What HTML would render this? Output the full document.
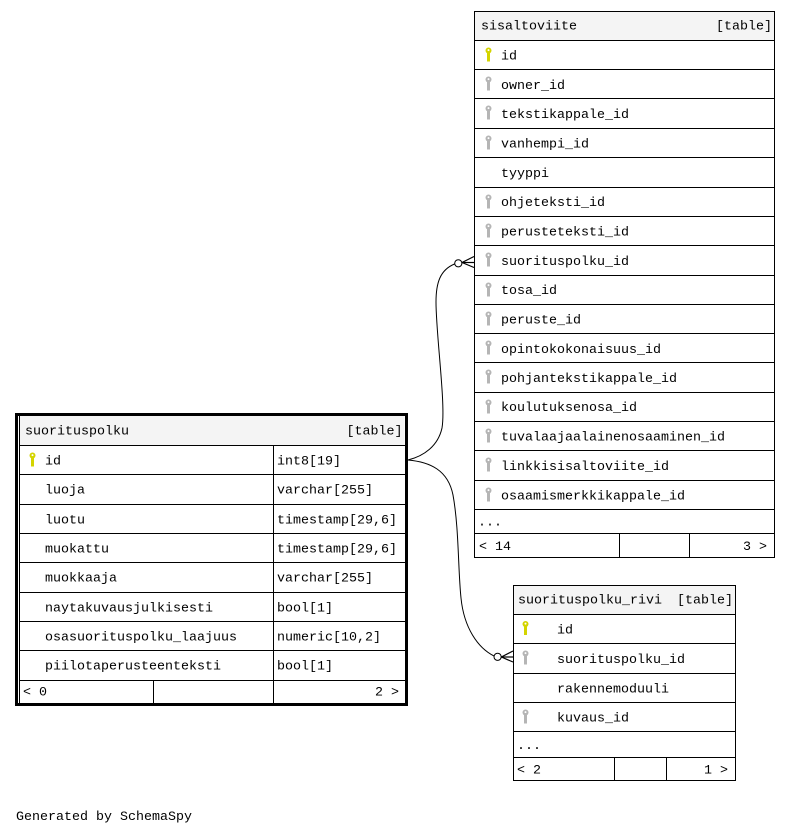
<!DOCTYPE html>
<html>
<head>
<meta charset="utf-8">
<style>
  html, body { margin: 0; padding: 0; background: #ffffff; }
  body { width: 789px; height: 835px; overflow: hidden; }
  svg { display: block; }
  text { font-family: "Liberation Mono", "DejaVu Sans Mono", monospace; font-size: 13.33px; fill: #000; }
</style>
</head>
<body>
<svg width="789" height="835" viewBox="0 0 789 835" xmlns="http://www.w3.org/2000/svg">
  <defs>
    <g id="kY">
      <circle cx="3.5" cy="3" r="3" fill="#d4d400"/>
      <rect x="2" y="5" width="3" height="9" fill="#d4d400"/>
      <circle cx="3.5" cy="2.6" r="1" fill="#ffffff"/>
    </g>
    <g id="kG">
      <circle cx="3.5" cy="3" r="3" fill="#b5b5b5"/>
      <rect x="2" y="5" width="3" height="9" fill="#b5b5b5"/>
      <circle cx="3.5" cy="2.6" r="1" fill="#ffffff"/>
    </g>
  </defs>

  <!-- ================= sisaltoviite ================= -->
  <g shape-rendering="crispEdges">
    <rect x="474.5" y="11.5" width="300" height="29" fill="#f4f4f4" stroke="none"/>
    <rect x="474.5" y="11.5" width="300" height="546" fill="none" stroke="#000" stroke-width="1"/>
    <g stroke="#000" stroke-width="1">
      <line x1="474.5" y1="40.5" x2="774.5" y2="40.5"/>
      <line x1="474.5" y1="69.5" x2="774.5" y2="69.5"/>
      <line x1="474.5" y1="98.5" x2="774.5" y2="98.5"/>
      <line x1="474.5" y1="128.5" x2="774.5" y2="128.5"/>
      <line x1="474.5" y1="157.5" x2="774.5" y2="157.5"/>
      <line x1="474.5" y1="187.5" x2="774.5" y2="187.5"/>
      <line x1="474.5" y1="216.5" x2="774.5" y2="216.5"/>
      <line x1="474.5" y1="245.5" x2="774.5" y2="245.5"/>
      <line x1="474.5" y1="275.5" x2="774.5" y2="275.5"/>
      <line x1="474.5" y1="304.5" x2="774.5" y2="304.5"/>
      <line x1="474.5" y1="333.5" x2="774.5" y2="333.5"/>
      <line x1="474.5" y1="362.5" x2="774.5" y2="362.5"/>
      <line x1="474.5" y1="392.5" x2="774.5" y2="392.5"/>
      <line x1="474.5" y1="421.5" x2="774.5" y2="421.5"/>
      <line x1="474.5" y1="450.5" x2="774.5" y2="450.5"/>
      <line x1="474.5" y1="480.5" x2="774.5" y2="480.5"/>
      <line x1="474.5" y1="509.5" x2="774.5" y2="509.5"/>
      <line x1="474.5" y1="533.5" x2="774.5" y2="533.5"/>
      <line x1="619.5" y1="533.5" x2="619.5" y2="557.5"/>
      <line x1="689.5" y1="533.5" x2="689.5" y2="557.5"/>
    </g>
  </g>
  <text x="481" y="29.5">sisaltoviite</text>
  <text x="772" y="29.5" text-anchor="end">[table]</text>
  <use href="#kY" x="485" y="47.5"/>
  <text x="501" y="59.5">id</text>
  <use href="#kG" x="485" y="76.5"/>
  <text x="501" y="89">owner_id</text>
  <use href="#kG" x="485" y="105.5"/>
  <text x="501" y="118">tekstikappale_id</text>
  <use href="#kG" x="485" y="135.5"/>
  <text x="501" y="147.5">vanhempi_id</text>
  <text x="501" y="177">tyyppi</text>
  <use href="#kG" x="485" y="194.5"/>
  <text x="501" y="206">ohjeteksti_id</text>
  <use href="#kG" x="485" y="223.5"/>
  <text x="501" y="235.5">perusteteksti_id</text>
  <use href="#kG" x="485" y="252.5"/>
  <text x="501" y="265">suorituspolku_id</text>
  <use href="#kG" x="485" y="282.5"/>
  <text x="501" y="294">tosa_id</text>
  <use href="#kG" x="485" y="311.5"/>
  <text x="501" y="323.5">peruste_id</text>
  <use href="#kG" x="485" y="340.5"/>
  <text x="501" y="353">opintokokonaisuus_id</text>
  <use href="#kG" x="485" y="369.5"/>
  <text x="501" y="382">pohjantekstikappale_id</text>
  <use href="#kG" x="485" y="399.5"/>
  <text x="501" y="411">koulutuksenosa_id</text>
  <use href="#kG" x="485" y="428.5"/>
  <text x="501" y="440.5">tuvalaajaalainenosaaminen_id</text>
  <use href="#kG" x="485" y="457.5"/>
  <text x="501" y="470">linkkisisaltoviite_id</text>
  <use href="#kG" x="485" y="487.5"/>
  <text x="501" y="499.5">osaamismerkkikappale_id</text>
  <text x="478" y="525.5">...</text>
  <text x="479" y="550">&lt; 14</text>
  <text x="767" y="550" text-anchor="end">3 &gt;</text>

  <!-- ================= suorituspolku ================= -->
  <g shape-rendering="crispEdges">
    <rect x="19.5" y="416" width="385" height="29.5" fill="#f4f4f4" stroke="none"/>
    <g stroke="#000" stroke-width="1">
      <line x1="19.5" y1="416" x2="19.5" y2="703"/>
      <line x1="19.5" y1="445.5" x2="405" y2="445.5"/>
      <line x1="19.5" y1="474.5" x2="405" y2="474.5"/>
      <line x1="19.5" y1="504.5" x2="405" y2="504.5"/>
      <line x1="19.5" y1="533.5" x2="405" y2="533.5"/>
      <line x1="19.5" y1="562.5" x2="405" y2="562.5"/>
      <line x1="19.5" y1="592.5" x2="405" y2="592.5"/>
      <line x1="19.5" y1="621.5" x2="405" y2="621.5"/>
      <line x1="19.5" y1="650.5" x2="405" y2="650.5"/>
      <line x1="19.5" y1="680.5" x2="405" y2="680.5"/>
      <line x1="273.5" y1="445.5" x2="273.5" y2="703"/>
      <line x1="153.5" y1="680.5" x2="153.5" y2="703"/>
    </g>
    <rect x="16.5" y="414.5" width="390" height="290" fill="none" stroke="#000" stroke-width="3"/>
  </g>
  <text x="25" y="434.5">suorituspolku</text>
  <text x="402.5" y="434.5" text-anchor="end">[table]</text>
  <use href="#kY" x="29" y="452.5"/>
  <text x="45" y="464.5">id</text>
  <text x="277" y="464.5">int8[19]</text>
  <text x="45" y="493.5">luoja</text>
  <text x="277" y="493.5">varchar[255]</text>
  <text x="45" y="523.5">luotu</text>
  <text x="277" y="523.5">timestamp[29,6]</text>
  <text x="45" y="552.5">muokattu</text>
  <text x="277" y="552.5">timestamp[29,6]</text>
  <text x="45" y="581.5">muokkaaja</text>
  <text x="277" y="581.5">varchar[255]</text>
  <text x="45" y="611.5">naytakuvausjulkisesti</text>
  <text x="277" y="611.5">bool[1]</text>
  <text x="45" y="640.5">osasuorituspolku_laajuus</text>
  <text x="277" y="640.5">numeric[10,2]</text>
  <text x="45" y="669.5">piilotaperusteenteksti</text>
  <text x="277" y="669.5">bool[1]</text>
  <text x="23" y="695.5">&lt; 0</text>
  <text x="399" y="695.5" text-anchor="end">2 &gt;</text>

  <!-- ================= suorituspolku_rivi ================= -->
  <g shape-rendering="crispEdges">
    <rect x="513.5" y="585.5" width="222" height="29" fill="#f4f4f4" stroke="none"/>
    <rect x="513.5" y="585.5" width="222" height="195" fill="none" stroke="#000" stroke-width="1"/>
    <g stroke="#000" stroke-width="1">
      <line x1="513.5" y1="614.5" x2="735.5" y2="614.5"/>
      <line x1="513.5" y1="643.5" x2="735.5" y2="643.5"/>
      <line x1="513.5" y1="673.5" x2="735.5" y2="673.5"/>
      <line x1="513.5" y1="702.5" x2="735.5" y2="702.5"/>
      <line x1="513.5" y1="731.5" x2="735.5" y2="731.5"/>
      <line x1="513.5" y1="757.5" x2="735.5" y2="757.5"/>
      <line x1="614.5" y1="757.5" x2="614.5" y2="780.5"/>
      <line x1="666.5" y1="757.5" x2="666.5" y2="780.5"/>
    </g>
  </g>
  <text x="518" y="603.5">suorituspolku_rivi</text>
  <text x="733" y="603.5" text-anchor="end">[table]</text>
  <use href="#kY" x="522" y="621"/>
  <text x="557" y="633.5">id</text>
  <use href="#kG" x="522" y="650.5"/>
  <text x="557" y="663">suorituspolku_id</text>
  <text x="557" y="692.5">rakennemoduuli</text>
  <use href="#kG" x="522" y="709.5"/>
  <text x="557" y="721.5">kuvaus_id</text>
  <text x="517" y="749">...</text>
  <text x="517" y="773.5">&lt; 2</text>
  <text x="728" y="773.5" text-anchor="end">1 &gt;</text>

  <!-- ================= connectors ================= -->
  <g fill="none" stroke="#000" stroke-width="1">
    <path d="M408,460 C424,456 438,446 442,428 C446,405 436,335 436,302 C436,283 440,270 454.5,264"/>
    <path d="M408,460 C430,462 448,470 453,495 C459,528 458,570 461,598 C464,628 478,648 494,656"/>
  </g>
  <!-- ends: circle + crow's foot -->
  <circle cx="458.3" cy="263.3" r="3.6" fill="#fff" stroke="#000" stroke-width="1"/>
  <g stroke="#000" stroke-width="1.2" fill="none">
    <line x1="462" y1="262.5" x2="474" y2="256.5"/>
    <line x1="462" y1="262.5" x2="474" y2="262.5"/>
    <line x1="462" y1="262.5" x2="474" y2="267.5"/>
  </g>
  <circle cx="497.6" cy="656.8" r="3.6" fill="#fff" stroke="#000" stroke-width="1"/>
  <g stroke="#000" stroke-width="1.2" fill="none">
    <line x1="501.3" y1="657" x2="513" y2="651"/>
    <line x1="501.3" y1="657" x2="513" y2="657"/>
    <line x1="501.3" y1="657" x2="513" y2="662"/>
  </g>

  <text x="16" y="820">Generated by SchemaSpy</text>
</svg>
</body>
</html>
